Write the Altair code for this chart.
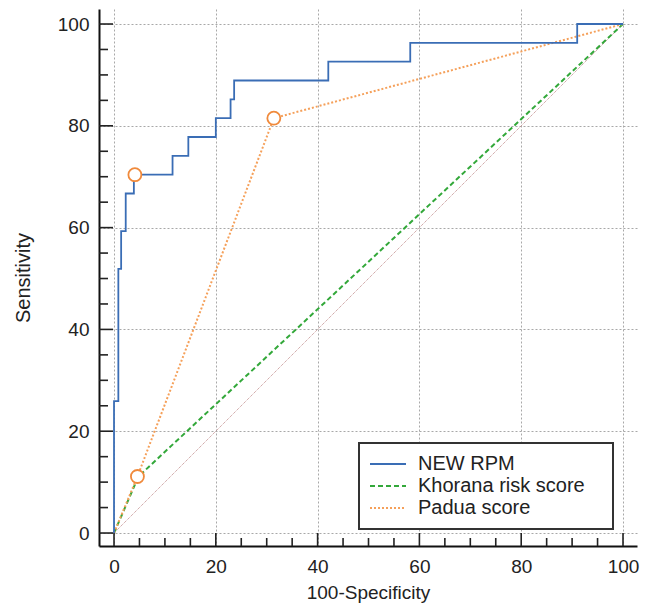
import altair as alt
import pandas as pd

# ---- data ----
series_names = ["NEW RPM", "Khorana risk score", "Padua score"]
series_colors = ["#3a6db5", "#33a83a", "#f5a05a"]
series_dashes = [[1, 0], [5, 3], [2, 2]]

# NEW RPM ROC corners (100-Specificity, Sensitivity), drawn as a step curve
rpm_fpr = [0, 0.85, 1.4, 2.3, 3.9, 11.5, 14.6, 20.0, 22.9, 23.6, 42.1, 58.2, 91.0, 100]
rpm_tpr = [0, 25.9, 51.9, 59.3, 66.7, 70.4, 74.1, 77.8, 81.5, 85.2, 88.9, 92.6, 96.3, 100]

khorana_fpr = [0, 4.8, 100]
khorana_tpr = [0, 11.1, 100]

padua_fpr = [0, 4.6, 31.4, 100]
padua_tpr = [0, 11.1, 81.5, 100]

# marked criterion points (hollow circles)
cut_fpr = [4.1, 4.6, 31.4]
cut_tpr = [70.4, 11.1, 81.5]

ref_fpr = [0, 100]
ref_tpr = [0, 100]

major_ticks = [0, 20, 40, 60, 80, 100]
minor_ticks = [5, 10, 15, 25, 30, 35, 45, 50, 55, 65, 70, 75, 85, 90, 95]

X_DOMAIN = [-2.95, 102.75]
Y_DOMAIN = [-2.55, 102.95]

FONT = "Liberation Sans"
W, H = 538, 537

rpm_df = pd.DataFrame({"fpr": rpm_fpr, "tpr": rpm_tpr, "series": series_names[0],
                       "ord": list(range(len(rpm_fpr)))})
other_df = pd.concat([
    pd.DataFrame({"fpr": khorana_fpr, "tpr": khorana_tpr, "series": series_names[1],
                  "ord": list(range(len(khorana_fpr)))}),
    pd.DataFrame({"fpr": padua_fpr, "tpr": padua_tpr, "series": series_names[2],
                  "ord": list(range(len(padua_fpr)))}),
])
cut_df = pd.DataFrame({"fpr": cut_fpr, "tpr": cut_tpr})
ref_df = pd.DataFrame({"fpr": ref_fpr, "tpr": ref_tpr, "ord": [0, 1]})
maj_df = pd.DataFrame({"v": major_ticks})
min_df = pd.DataFrame({"v": minor_ticks})

xs = alt.Scale(domain=X_DOMAIN, nice=False, zero=False)
ys = alt.Scale(domain=Y_DOMAIN, nice=False, zero=False)

color_scale = alt.Scale(domain=series_names, range=series_colors)
dash_scale = alt.Scale(domain=series_names, range=series_dashes)

NB = "\u00a0"
legend = alt.Legend(
    title=NB, titleOrient="right", titleFontSize=2, titlePadding=18,
    orient="none", legendX=260, legendY=434,
    symbolType="stroke", symbolSize=1296, symbolStrokeWidth=1.8,
    labelFontSize=20, labelFont=FONT, labelColor="#222", labelOffset=11,
    labelLimit=0, clipHeight=22, rowPadding=0, padding=10,
    fillColor="white", strokeColor="#333",
)

x_axis = alt.Axis(values=major_ticks, grid=True, gridColor="#a8a8a8", gridDash=[2, 2],
                  gridWidth=1, ticks=False, domainColor="#111", domainWidth=2,
                  labelFont=FONT, labelFontSize=19, labelColor="#222", labelPadding=11,
                  title="100-Specificity", titleFont=FONT, titleFontSize=19,
                  titleFontWeight="normal", titleColor="#222", titlePadding=7,
                  orient="bottom")
y_axis = alt.Axis(values=major_ticks, grid=True, gridColor="#a8a8a8", gridDash=[2, 2],
                  gridWidth=1, ticks=False, domainColor="#111", domainWidth=2,
                  labelFont=FONT, labelFontSize=19, labelColor="#222", labelPadding=10,
                  title="Sensitivity", titleFont=FONT, titleFontSize=20,
                  titleFontWeight="normal", titleColor="#222", titlePadding=24,
                  orient="left")


def X(field="fpr", axis=None):
    if axis is None:
        return alt.X(field + ":Q", scale=xs, axis=None)
    return alt.X(field + ":Q", scale=xs, axis=axis)


def Y(field="tpr", axis=None):
    if axis is None:
        return alt.Y(field + ":Q", scale=ys, axis=None)
    return alt.Y(field + ":Q", scale=ys, axis=axis)


ref = alt.Chart(ref_df).mark_line(color="#c08a8a", strokeWidth=1, strokeDash=[1, 1]).encode(
    x=X(axis=x_axis), y=Y(axis=y_axis), order="ord:O",
)

others = alt.Chart(other_df).mark_line(strokeWidth=2).encode(
    x=X(), y=Y(),
    color=alt.Color("series:N", scale=color_scale, sort=series_names, legend=legend),
    strokeDash=alt.StrokeDash("series:N", scale=dash_scale, sort=series_names, legend=legend),
    order="ord:O",
)

rpm = alt.Chart(rpm_df).mark_line(strokeWidth=1.8, interpolate="step-before").encode(
    x=X(), y=Y(),
    color=alt.Color("series:N", scale=color_scale, sort=series_names, legend=legend),
    strokeDash=alt.StrokeDash("series:N", scale=dash_scale, sort=series_names, legend=legend),
    order="ord:O",
)

cuts = alt.Chart(cut_df).mark_point(shape="circle", filled=True, fill="white",
                                    stroke="#f08a3c", strokeWidth=1.8, size=169,
                                    opacity=1).encode(x=X(), y=Y())

tick_color = "#222"
x_major = alt.Chart(maj_df).mark_rule(color=tick_color, strokeWidth=1.6).encode(
    x=X("v"), y=alt.value(H), y2=alt.value(H - 13))
x_minor = alt.Chart(min_df).mark_rule(color=tick_color, strokeWidth=1.6).encode(
    x=X("v"), y=alt.value(H), y2=alt.value(H - 8))
y_major = alt.Chart(maj_df).mark_rule(color=tick_color, strokeWidth=1.6).encode(
    y=Y("v"), x=alt.value(0), x2=alt.value(14))
y_minor = alt.Chart(min_df).mark_rule(color=tick_color, strokeWidth=1.6).encode(
    y=Y("v"), x=alt.value(0), x2=alt.value(9))

chart = alt.layer(ref, others, rpm, cuts, x_major, x_minor, y_major, y_minor).resolve_axis(
    x="independent", y="independent"
).properties(
    width=W, height=H,
    padding={"left": 91, "top": 1, "right": 8, "bottom": 58},
    autosize=alt.AutoSizeParams(type="none"),
).configure_view(strokeWidth=0).configure_legend(strokeWidth=2)

chart.save("out.html", embed_options={"renderer": "svg", "actions": False})
